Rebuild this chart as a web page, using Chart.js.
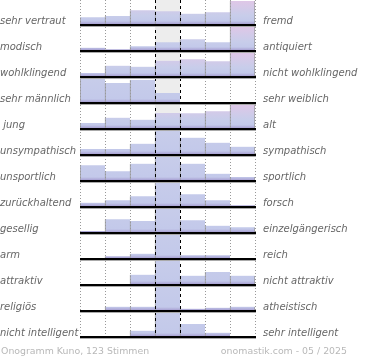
<!DOCTYPE html>
<html>
<head>
<meta charset="utf-8">
<script src="https://cdn.jsdelivr.net/npm/chart.js@4"></script>
<style>
  html, body { margin: 0; padding: 0; background: #fff; }
  #wrap { width: 370px; height: 360px; }
</style>
</head>
<body>
<div id="wrap"><canvas id="onogramm"></canvas></div>
<script>
const leftLabels = ['sehr vertraut', 'modisch', 'wohlklingend', 'sehr männlich', ' jung', 'unsympathisch',
  'unsportlich', 'zurückhaltend', 'gesellig', 'arm', 'attraktiv', 'religiös', 'nicht intelligent'];
const rightLabels = ['fremd', 'antiquiert', 'nicht wohlklingend', 'sehr weiblich', 'alt', 'sympathisch',
  'sportlich', 'forsch', 'einzelgängerisch', 'reich', 'nicht attraktiv', 'atheistisch', 'sehr intelligent'];
const columns = ['1', '2', '3', '4', '5', '6', '7'];

// bar height per row, left to right. anything over 25 gets cut off at the row top
const rowVotes = [
  [7.7, 9, 14.7, 13.7, 11.3, 12.7, 24],
  [3.3, 1.7, 4.7, 8.7, 11.7, 8.7, 24.3],
  [4, 11.3, 10.3, 16.3, 17.7, 15.7, 24.5],
  [70, 20, 23, 10, 0, 0, 0],
  [6, 11.3, 9.3, 16, 15.7, 17.7, 25],
  [6, 6, 11.3, 66, 17.3, 12.3, 8.3],
  [15.7, 9.7, 17.3, 68, 17.3, 7.3, 4],
  [4.3, 6.7, 10.7, 80, 12.7, 6.7, 1.7],
  [2, 13.7, 12, 72, 12.7, 7.3, 5.7],
  [1, 2.7, 5.3, 95, 3.7, 3.7, 0],
  [1, 1, 10.3, 75, 9.3, 13, 9.3],
  [1, 4.3, 4.3, 90, 2.3, 3.3, 4.3],
  [0.5, 0.5, 6.3, 85, 13, 4.3, 0.5]
];

const ROW = 26;   // height of one row on the y scale
const CAP = 25;   // tallest visible bar

function rowBase(i) {
  return ROW * i + 25;
}

// gradient runs over the row's biggest value, so cut-off rows only show the blue part
function barFill(ctx) {
  const chart = ctx.chart;
  if (!chart.chartArea) return '#c4cbe9';
  const i = ctx.datasetIndex;
  const y = chart.scales.y;
  const base = rowBase(i);
  const yb = y.getPixelForValue(base);
  const yt = y.getPixelForValue(base - Math.max(...rowVotes[i]));
  const span = yb - yt;
  const g = chart.ctx.createLinearGradient(0, yt, 0, yb);
  g.addColorStop(0, '#dfc7e7');
  g.addColorStop(0.6, '#c8cdea');
  g.addColorStop(Math.max(0.6, 1 - 4 / span), '#c3c9ea');
  g.addColorStop(1, '#a094cc');
  return g;
}

const datasets = rowVotes.map((votes, i) => ({
  label: leftLabels[i],
  data: votes.map(v => [rowBase(i) - Math.min(v, CAP), rowBase(i)]),
  grouped: false,
  barPercentage: 1,
  categoryPercentage: 1,
  backgroundColor: barFill,
  borderColor: '#999',
  borderSkipped: false,
  borderWidth: ctx => ({left: 1, right: ctx.dataIndex === 6 ? 1 : 0, top: 0, bottom: 0})
}));

const labelFont = {family: 'DejaVu Sans', size: 10, style: 'italic'};

// keep the label axes from pushing the plot area down
function fixSide(width) {
  return s => {
    s.width = width;
    s.paddingTop = 0;
    s.paddingBottom = 0;
  };
}

const decor = {
  id: 'decor',
  beforeDraw(chart) {
    // grey middle column
    const {ctx, chartArea: a, scales: {x}} = chart;
    const w = (a.right - a.left) / columns.length;
    const mid = x.getPixelForValue(3);
    ctx.save();
    ctx.fillStyle = '#ededed';
    ctx.fillRect(mid - w / 2, a.top, w, a.bottom - a.top);
    ctx.restore();
  },
  afterDraw(chart) {
    const {ctx, chartArea: a, scales: {y}} = chart;
    ctx.save();
    rowVotes.forEach((v, i) => {
      const py = y.getPixelForValue(rowBase(i));
      ctx.fillStyle = '#000';
      ctx.fillRect(a.left, py - 1, a.right - a.left + 1, 2);
      ctx.fillStyle = '#aaa';
      ctx.fillRect(a.left, py + 1, a.right - a.left + 1, 1);
    });
    ctx.font = '9.4px "DejaVu Sans"';
    ctx.fillStyle = '#b8b8b8';
    ctx.textBaseline = 'middle';
    ctx.textAlign = 'left';
    ctx.fillText('Onogramm Kuno, 123 Stimmen', 1, 352);
    ctx.textAlign = 'right';
    ctx.fillText('onomastik.com - 05 / 2025', 347, 352);
    ctx.restore();
  }
};

new Chart(document.getElementById('onogramm'), {
  type: 'bar',
  data: {labels: columns, datasets: datasets},
  options: {
    responsive: true,
    maintainAspectRatio: false,
    animation: false,
    layout: {padding: 0},
    plugins: {legend: {display: false}, tooltip: {enabled: false}},
    scales: {
      x: {
        type: 'category',
        offset: true,
        afterFit: s => { s.height = 22; s.paddingLeft = 0; s.paddingRight = 0; },
        ticks: {display: false},
        grid: {
          offset: true,
          drawTicks: false,
          z: 1,
          color: ctx => (ctx.index === 3 || ctx.index === 4) ? '#000' : '#999',
          lineWidth: 1
        },
        border: {
          display: false,
          dash: ctx => (ctx.index === 3 || ctx.index === 4) ? [3, 3] : [1, 2]
        }
      },
      y: {
        display: false,
        min: 0,
        max: ROW * rowVotes.length,
        reverse: true
      },
      left: {
        type: 'category',
        position: 'left',
        labels: leftLabels,
        offset: true,
        afterFit: fixSide(80),
        grid: {display: false},
        border: {display: false},
        ticks: {crossAlign: 'far', padding: 0, labelOffset: 8, autoSkip: false, color: '#666', font: labelFont}
      },
      right: {
        type: 'category',
        position: 'right',
        labels: rightLabels,
        offset: true,
        afterFit: fixSide(115),
        grid: {display: false, drawTicks: false},
        border: {display: false},
        ticks: {padding: 8, labelOffset: 8, autoSkip: false, color: '#666', font: labelFont}
      }
    }
  },
  plugins: [decor]
});
</script>
</body>
</html>
